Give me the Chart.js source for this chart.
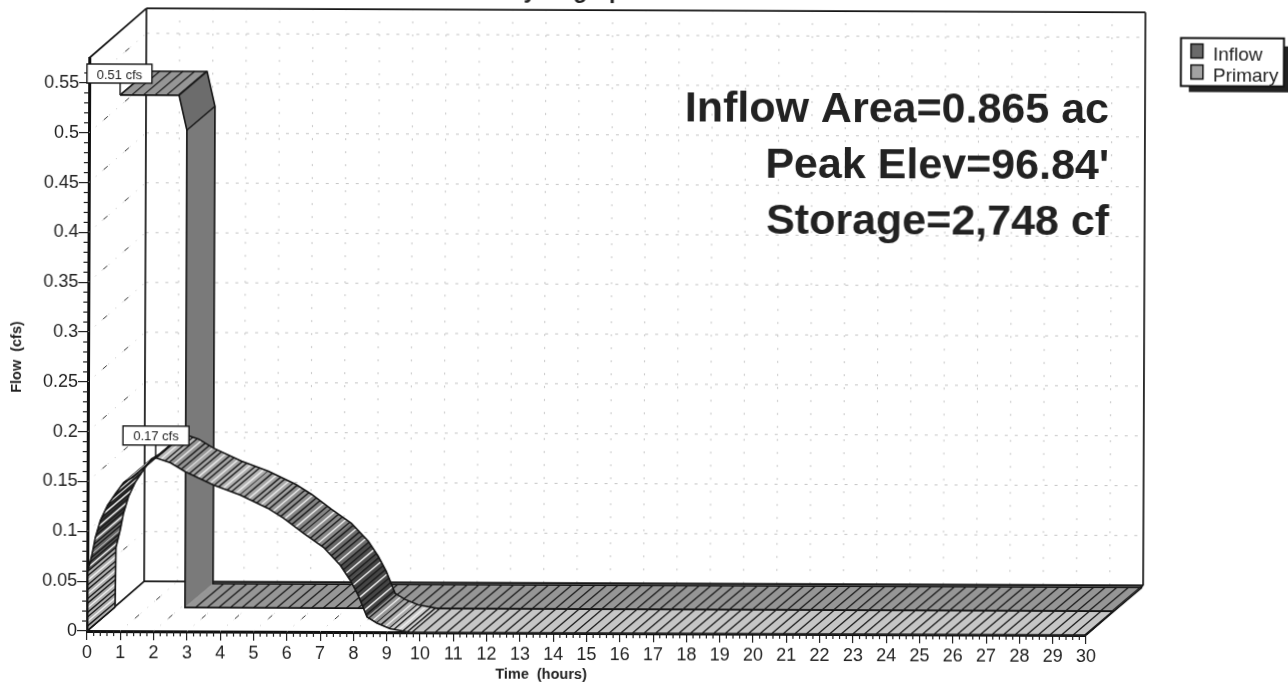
<!DOCTYPE html>
<html>
<head>
<meta charset="utf-8">
<title>Hydrograph</title>
<script src="https://cdn.jsdelivr.net/npm/chart.js@4"></script>
<style>
  html, body { margin: 0; background: #fff; overflow: hidden; width: 1288px; height: 685px; }
  #myChart { position: absolute; left: -20px; top: -20px; transform-origin: 107px 651px; transform: rotate(0.23deg); filter: blur(0.35px); }
</style>
</head>
<body>
<canvas id="myChart" width="1328" height="725"></canvas>
<script>
// values
const inflowHours = [0.09, 1.86, 2.1, 2.1, 30];
const inflowCfs = [0.514, 0.514, 0.479, 0, 0];
const primaryHours = [0, 0.02, 0.15, 0.24, 0.39, 0.6, 0.84, 1.08, 1.38, 1.95, 2.04, 2.49, 2.94, 3.78, 4.59, 5.41, 5.89, 6.49, 7.09, 7.6, 7.9, 8.14, 8.41, 8.71, 9.1, 9.7, 30];
const primaryCfs = [0, 0.06, 0.078, 0.094, 0.111, 0.126, 0.138, 0.149, 0.155, 0.172, 0.174, 0.169, 0.16, 0.147, 0.137, 0.124, 0.114, 0.099, 0.085, 0.067, 0.052, 0.037, 0.015, 0.009, 0.0035, 0, 0];
const hourTicks = [0, 1, 2, 3, 4, 5, 6, 7, 8, 9, 10, 11, 12, 13, 14, 15, 16, 17, 18, 19, 20, 21, 22, 23, 24, 25, 26, 27, 28, 29, 30];
const flowTicks = [0, 0.05, 0.1, 0.15, 0.2, 0.25, 0.3, 0.35, 0.4, 0.45, 0.5, 0.55];
const seriesNames = ['Inflow', 'Primary'];
const peakLabels = ['0.51 cfs', '0.17 cfs'];
const notes = ['Inflow Area=0.865 ac', "Peak Elev=96.84'", 'Storage=2,748 cf'];

// depth of the fake 3D, in data units
const layerX = 0.84, layerY = 0.024;
const wallX = 1.71, wallY = 0.05;
const maxFlow = 0.575;

const OFF = 20;
const TILT = 0.004;
const FONT = '"Liberation Sans", Arial, sans-serif';

// page position of the scan -> position on the tilted canvas
function at(px, py) {
  return { x: px - (631 - py) * TILT + OFF, y: py - (px - 87) * TILT + OFF };
}

function toPoints(hours, cfs, shift) {
  return hours.map((h, i) => ({ x: h + layerX * shift, y: cfs[i] + layerY * shift }));
}

function edge(hours, cfs, shift) {
  return {
    data: toPoints(hours, cfs, shift),
    showLine: true,
    borderColor: '#151515',
    borderWidth: 1.6,
    pointRadius: 0,
    clip: false,
    tension: 0
  };
}

function inflowShade(dx, dy) {
  if (Math.abs(dy) < 1) return '#969696';
  if (Math.abs(dx) < 1) return '#7a7a7a';
  return '#6c6c6c';
}

function primaryShade(dx, dy) {
  if (Math.abs(dy) < 1) return '#c6c6c6';
  let ang = Math.atan2(-dy, dx) * 180 / Math.PI;
  let g;
  if (ang > 0) {
    g = 50 + Math.min(1, Math.max(0, (ang - 72) / 16)) * 125;
  } else {
    g = Math.max(70, 235 + ang * 2.8);
  }
  g = Math.round(g);
  return 'rgb(' + g + ',' + g + ',' + g + ')';
}

function drawRibbon(ctx, front, back, shade, hatchFlat, hatchSlope) {
  let left = 0;
  let count = 0;
  for (let i = 0; i < front.length - 1; i++) {
    let a = front[i], b = front[i + 1], c = back[i + 1], d = back[i];
    let dx = b.x - a.x, dy = b.y - a.y;
    let len = Math.hypot(dx, dy);
    if (len < 0.01) continue;
    ctx.fillStyle = shade(dx, dy);
    ctx.strokeStyle = ctx.fillStyle;
    ctx.lineWidth = 0.5;
    ctx.beginPath();
    ctx.moveTo(a.x, a.y);
    ctx.lineTo(b.x, b.y);
    ctx.lineTo(c.x, c.y);
    ctx.lineTo(d.x, d.y);
    ctx.closePath();
    ctx.fill();
    ctx.stroke();

    // stripes going into the depth
    let flat = Math.abs(dy) < 1;
    let step = flat ? hatchFlat : hatchSlope;
    if (!step) continue;
    let pos = left;
    while (pos < len) {
      let t = pos / len;
      let light = !flat && count % 3 === 2;
      ctx.strokeStyle = light ? '#eeeeee' : '#1c1c1c';
      ctx.lineWidth = flat ? 1.3 : 1.4;
      ctx.beginPath();
      ctx.moveTo(a.x + dx * t, a.y + dy * t);
      ctx.lineTo(d.x + (c.x - d.x) * t, d.y + (c.y - d.y) * t);
      ctx.stroke();
      pos += step;
      count++;
    }
    left = pos - len;
  }
}

function depthEdges(ctx, front, back) {
  ctx.strokeStyle = '#151515';
  ctx.lineWidth = 1.4;
  front.forEach((p, i) => {
    ctx.beginPath();
    ctx.moveTo(p.x, p.y);
    ctx.lineTo(back[i].x, back[i].y);
    ctx.stroke();
  });
}

function metaPoints(chart, index) {
  return chart.getDatasetMeta(index).data.map(el => ({ x: el.x, y: el.y }));
}

const primaryPeak = primaryCfs.indexOf(Math.max(...primaryCfs));

const ribbons = {
  beforeDatasetDraw(chart, args) {
    const ctx = chart.ctx;
    ctx.save();
    if (args.index === 3) {
      let front = metaPoints(chart, 2), back = metaPoints(chart, 3);
      drawRibbon(ctx, front, back, inflowShade, 11.6, 0);
      depthEdges(ctx, [front[0], front[1], front[2], front[4]], [back[0], back[1], back[2], back[4]]);
    }
    if (args.index === 1) {
      let front = metaPoints(chart, 0), back = metaPoints(chart, 1);
      drawRibbon(ctx, front, back, primaryShade, 11.6, 4.6);
      let n = front.length - 1;
      depthEdges(ctx, [front[0], front[primaryPeak], front[n]], [back[0], back[primaryPeak], back[n]]);
    }
    ctx.restore();
  }
};

const walls = {
  beforeDatasetsDraw(chart) {
    const ctx = chart.ctx, xs = chart.scales.x, ys = chart.scales.y;
    const px = (h, v) => ({ x: xs.getPixelForValue(h), y: ys.getPixelForValue(v) });
    const line = (a, b) => { ctx.beginPath(); ctx.moveTo(a.x, a.y); ctx.lineTo(b.x, b.y); ctx.stroke(); };
    ctx.save();

    // dotted grid on the back wall
    ctx.strokeStyle = '#c4c4c4';
    ctx.lineWidth = 1;
    ctx.setLineDash([3, 7]);
    flowTicks.slice(1).forEach(v => {
      line(px(wallX, v + wallY), px(30 + wallX, v + wallY));
    });
    ctx.setLineDash([2, 11]);
    hourTicks.slice(1, -1).forEach(h => {
      line(px(h + wallX, wallY), px(h + wallX, maxFlow + wallY));
    });

    // dashes on the side wall and the floor
    const dash = (o) => {
      ctx.setLineDash([1, 8]);
      ctx.strokeStyle = '#bdbdbd';
      line(o, { x: o.x + wallX * xs.width / 30, y: o.y - wallY * ys.height / maxFlow });
      ctx.setLineDash([]);
      ctx.strokeStyle = '#333';
      [0.26, 0.63].forEach(f => {
        let dx = wallX * xs.width / 30, dy = wallY * ys.height / maxFlow;
        line({ x: o.x + dx * f, y: o.y - dy * f }, { x: o.x + dx * (f + 0.07), y: o.y - dy * (f + 0.07) });
      });
    };
    flowTicks.slice(1).forEach(v => dash(px(0, v)));
    hourTicks.slice(1).forEach(h => dash(px(h, 0)));

    // frame
    ctx.setLineDash([]);
    ctx.strokeStyle = '#151515';
    ctx.lineWidth = 1.7;
    const a = px(0, maxFlow), b = px(wallX, maxFlow + wallY), c = px(30 + wallX, maxFlow + wallY);
    const d = px(30 + wallX, wallY), e = px(wallX, wallY), f = px(30, 0), g = px(0, 0);
    line(a, b); line(b, c); line(c, d); line(d, e); line(e, b); line(e, g); line(d, f);
    ctx.restore();
  },

  afterDraw(chart) {
    const ctx = chart.ctx, xs = chart.scales.x, ys = chart.scales.y;
    ctx.save();

    // minor ticks
    ctx.strokeStyle = '#222';
    ctx.lineWidth = 1.2;
    for (let i = 1; i < 150; i++) {
      if (i % 5 === 0) continue;
      let x = xs.getPixelForValue(i * 0.2);
      ctx.beginPath(); ctx.moveTo(x, ys.bottom); ctx.lineTo(x, ys.bottom + 5); ctx.stroke();
    }
    for (let i = 1; i < 57; i++) {
      if (i % 5 === 0) continue;
      let y = ys.getPixelForValue(i * 0.01);
      ctx.beginPath(); ctx.moveTo(xs.left, y); ctx.lineTo(xs.left - 5, y); ctx.stroke();
    }

    // peak flags with their leaders
    ctx.textBaseline = 'alphabetic';
    const flag = (text, point, box) => {
      ctx.strokeStyle = '#151515';
      ctx.lineWidth = 1.4;
      ctx.beginPath();
      ctx.moveTo(point.x, point.y);
      ctx.lineTo(point.x, box.y + box.h);
      ctx.stroke();
      ctx.fillStyle = '#fff';
      ctx.fillRect(box.x, box.y, box.w, box.h);
      ctx.strokeRect(box.x, box.y, box.w, box.h);
      ctx.fillStyle = '#222';
      ctx.font = '13px ' + FONT;
      ctx.textAlign = 'center';
      ctx.fillText(text, box.x + box.w / 2, box.y + 14.5);
    };
    let p1 = metaPoints(chart, 2)[0], p2 = metaPoints(chart, 0)[primaryPeak];
    let b1 = at(87, 64), b2 = at(123, 426);
    flag(peakLabels[0], p1, { x: b1.x, y: b1.y, w: 65, h: 19 });
    flag(peakLabels[1], p2, { x: b2.x, y: b2.y, w: 66, h: 19 });

    // big notes
    ctx.fillStyle = '#222';
    ctx.font = 'bold 43px ' + FONT;
    ctx.textAlign = 'right';
    let n1 = at(1109, 123), n2 = at(1109, 179), n3 = at(1109, 235);
    ctx.fillText(notes[0], n1.x, n1.y);
    ctx.fillText(notes[1], n2.x, n2.y);
    ctx.fillText(notes[2], n3.x, n3.y);

    // title cut by the top of the scan
    let t = at(572, -2);
    ctx.font = 'bold 23px ' + FONT;
    ctx.textAlign = 'center';
    ctx.fillText('Hydrograph', t.x, t.y);

    // axis titles
    ctx.font = 'bold 14.5px ' + FONT;
    let tx = at(541, 679);
    ctx.fillText('Time  (hours)', tx.x, tx.y);
    let ty = at(21, 357);
    ctx.translate(ty.x, ty.y);
    ctx.rotate(-Math.PI / 2);
    ctx.fillText('Flow  (cfs)', 0, 0);
    ctx.setTransform(1, 0, 0, 1, 0, 0);

    // legend
    let s = at(1189, 46), l = at(1181, 38);
    ctx.fillStyle = '#222';
    ctx.fillRect(s.x, s.y, 104, 46);
    ctx.fillStyle = '#fff';
    ctx.strokeStyle = '#151515';
    ctx.lineWidth = 2;
    ctx.fillRect(l.x, l.y, 103, 48);
    ctx.strokeRect(l.x, l.y, 103, 48);
    const swatch = ['#6a6a6a', '#a2a2a2'];
    const rows = [at(1191, 44), at(1191, 65)];
    ctx.textAlign = 'left';
    ctx.font = '19px ' + FONT;
    seriesNames.forEach((name, i) => {
      ctx.fillStyle = swatch[i];
      ctx.fillRect(rows[i].x, rows[i].y, 12, 14);
      ctx.lineWidth = 1.5;
      ctx.strokeRect(rows[i].x, rows[i].y, 12, 14);
      ctx.fillStyle = '#222';
      ctx.fillText(name, rows[i].x + 22, rows[i].y + 16);
    });
    ctx.restore();
  }
};

var ctx = document.getElementById('myChart');
var myChart = new Chart(ctx, {
  type: 'scatter',
  data: {
    datasets: [
      edge(primaryHours, primaryCfs, 0),
      edge(primaryHours, primaryCfs, 1),
      edge(inflowHours, inflowCfs, 1),
      edge(inflowHours, inflowCfs, 2)
    ]
  },
  plugins: [walls, ribbons],
  options: {
    responsive: false,
    animation: false,
    layout: { padding: { top: 78, right: 222, left: 0, bottom: 0 } },
    plugins: {
      legend: { display: false },
      title: { display: false },
      tooltip: { enabled: false }
    },
    scales: {
      x: {
        type: 'linear',
        min: 0,
        max: 30,
        afterFit: axis => { axis.height = 74; },
        afterBuildTicks: axis => { axis.ticks = hourTicks.map(v => ({ value: v })); },
        grid: { drawOnChartArea: false, tickLength: 9, color: '#222', lineWidth: 1.2 },
        border: { display: true, color: '#111', width: 3 },
        ticks: {
          color: '#222',
          maxRotation: 0,
          autoSkip: false,
          padding: 2,
          font: { family: FONT, size: 18 },
          callback: v => String(v)
        }
      },
      y: {
        type: 'linear',
        min: 0,
        max: maxFlow,
        afterFit: axis => { axis.width = 107; },
        afterBuildTicks: axis => { axis.ticks = flowTicks.map(v => ({ value: v })); },
        grid: { drawOnChartArea: false, tickLength: 10, color: '#222', lineWidth: 1.2 },
        border: { display: true, color: '#111', width: 3 },
        ticks: {
          color: '#222',
          autoSkip: false,
          padding: 0,
          font: { family: FONT, size: 18 },
          callback: v => String(v)
        }
      }
    }
  }
});
</script>
</body>
</html>
